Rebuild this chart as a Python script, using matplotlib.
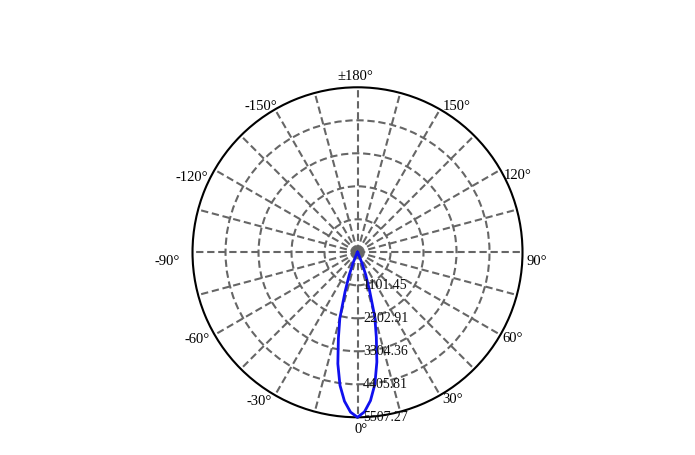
import numpy as np
import matplotlib
matplotlib.use("Agg")
import matplotlib.pyplot as plt
import matplotlib.transforms as mtransforms

# ---- data ----
gamma_deg = [-180, -90, -60, -45, -40, -35, -30, -27.5, -25, -22.5, -20, -17.5, -15, -12.5, -10,
             -7.5, -5, -2.5, 0, 2.5, 5, 7.5, 10, 12.5, 15, 17.5, 20, 22.5, 25, 27.5, 30,
             35, 40, 45, 60, 90, 180]
intensity = [0, 0, 0, 2, 5, 8, 15, 40, 120, 400, 820, 1380, 2280, 2950, 3780,
             4480, 4990, 5340, 5507.27, 5330, 4970, 4440, 3720, 2900, 2230, 1330, 800,
             390, 115, 40, 15, 8, 5, 2, 0, 0, 0]
r_max = 5507.27
ring_values = [1101.45, 2202.91, 3304.36, 4405.81, 5507.27]
ring_labels = ["1101.45", "2202.91", "3304.36", "4405.81", "5507.27"]
angle_ticks = [180, 150, 120, 90, 60, 30, 0, -30, -60, -90, -120, -150]
angle_labels = ["±180°", "150°", "120°", "90°", "60°", "30°", "0°",
                "-30°", "-60°", "-90°", "-120°", "-150°"]

# ---- style ----
plt.rcParams['font.family'] = ['Liberation Serif', 'DejaVu Serif']
fig = plt.figure(figsize=(6.95, 4.56), dpi=100)
ax = fig.add_axes([0.277, 0.0827, 0.4748, 0.7237], projection='polar')
ax.set_theta_zero_location('S')
ax.set_theta_direction(1)
ax.set_ylim(0, r_max)

ax.set_thetagrids(np.arange(0, 360, 15), labels=[])
ax.set_rgrids(ring_values[:-1], labels=[])
ax.grid(True, color='#666666', linestyle=(0, (3.5, 1.8)), linewidth=1.5)
ax.spines['polar'].set_color('black')
ax.spines['polar'].set_linewidth(1.5)
ax.tick_params(length=0)

# curve
ax.plot(np.deg2rad(gamma_deg), intensity, color='#1010ee', linewidth=2.0,
        zorder=5, clip_on=False)

# angle labels
label_layout = {
    180: ('center', -2, -8), 150: ('left', 3, 0), 120: ('left', 3, 8),
    90: ('left', 4, 12), 60: ('left', 2, 6), 30: ('left', 2, 7),
    0: ('center', 3.5, 15), -30: ('right', -3, 9), -60: ('right', -5, 7),
    -90: ('right', -13, 12), -120: ('right', -6, 10), -150: ('right', 2, 0),
}
for a, lab in zip(angle_ticks, angle_labels):
    ha, dx, dy = label_layout[a]
    tr = mtransforms.offset_copy(ax.transData, fig=fig, x=dx, y=-dy, units='dots')
    ax.text(np.deg2rad(a), r_max, lab, transform=tr, ha=ha, va='baseline',
            fontsize=10.5, color='black', clip_on=False)

# radial labels
for v, lab in zip(ring_values, ring_labels):
    tr = mtransforms.offset_copy(ax.transData, fig=fig, x=5.5, y=-3, units='dots')
    ax.text(0, v, lab, transform=tr, ha='left', va='baseline', fontsize=10,
            color='#111111', zorder=6, clip_on=False)

fig.savefig('out.png', dpi=100)
